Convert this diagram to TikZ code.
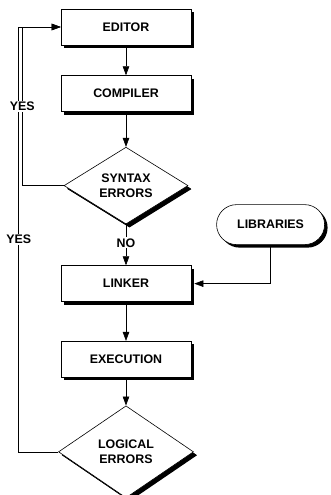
\documentclass[tikz,border=0pt]{standalone}
\usepackage{fontspec}
\setmainfont{Liberation Sans}
\usetikzlibrary{arrows.meta,positioning,shapes.geometric,shadows}
\tikzset{box/.style={draw,fill=white,line width=0.6pt,minimum width=130pt,minimum height=36pt,align=center,font=\fontsize{12.4pt}{15pt}\selectfont\bfseries,drop shadow={shadow xshift=3pt,shadow yshift=-3pt,fill=black,opacity=1}},decision/.style={box,diamond,inner sep=0pt,drop shadow={shadow xshift=3.5pt,shadow yshift=-3.5pt,fill=black,opacity=1}},source/.style={box,rounded corners=20pt,minimum width=108pt,minimum height=40pt},edge/.style={-{Triangle[length=9pt,width=6.5pt]},line width=0.6pt},lbl/.style={fill=white,inner sep=1pt,font=\fontsize{12.4pt}{15pt}\selectfont\bfseries}}
\begin{document}
\begin{tikzpicture}
\useasboundingbox (0,0) rectangle (330pt,-495pt);
\clip (0,0) rectangle (330pt,-495pt);
\node[box] (editor) at (126pt,-27pt) {EDITOR};\node[box,below=30pt of editor] (compiler) {COMPILER};\node[decision,below=35pt of compiler,minimum width=124pt,minimum height=76pt] (syntax) {SYNTAX\\ERRORS};
\node[box,below=41pt of syntax] (linker) {LINKER};\node[box,below=39pt of linker] (execution) {EXECUTION};\node[decision,below=28pt of execution,minimum width=135pt,minimum height=92pt] (logical) {LOGICAL\\ERRORS};
\node[source,right=28pt of syntax,yshift=-39pt] (libraries) {LIBRARIES};
\draw[edge] (editor) -- (compiler);\draw[edge] (compiler) -- (syntax);\draw[edge] (syntax) -- node[lbl,pos=.45]{NO} (linker);\draw[edge] (linker) -- (execution);\draw[edge] (execution) -- (logical);
\draw[edge] (libraries.south) |- ([xshift=3pt]linker.east);
\draw[edge] (logical.west) -- ++(-39.5pt,0) |- node[lbl,pos=.25]{YES} (editor.west);
\draw[edge] (syntax.west) -- ++(-41.5pt,0) |- node[lbl,pos=.25]{YES} (editor.west);
\end{tikzpicture}
\end{document}
